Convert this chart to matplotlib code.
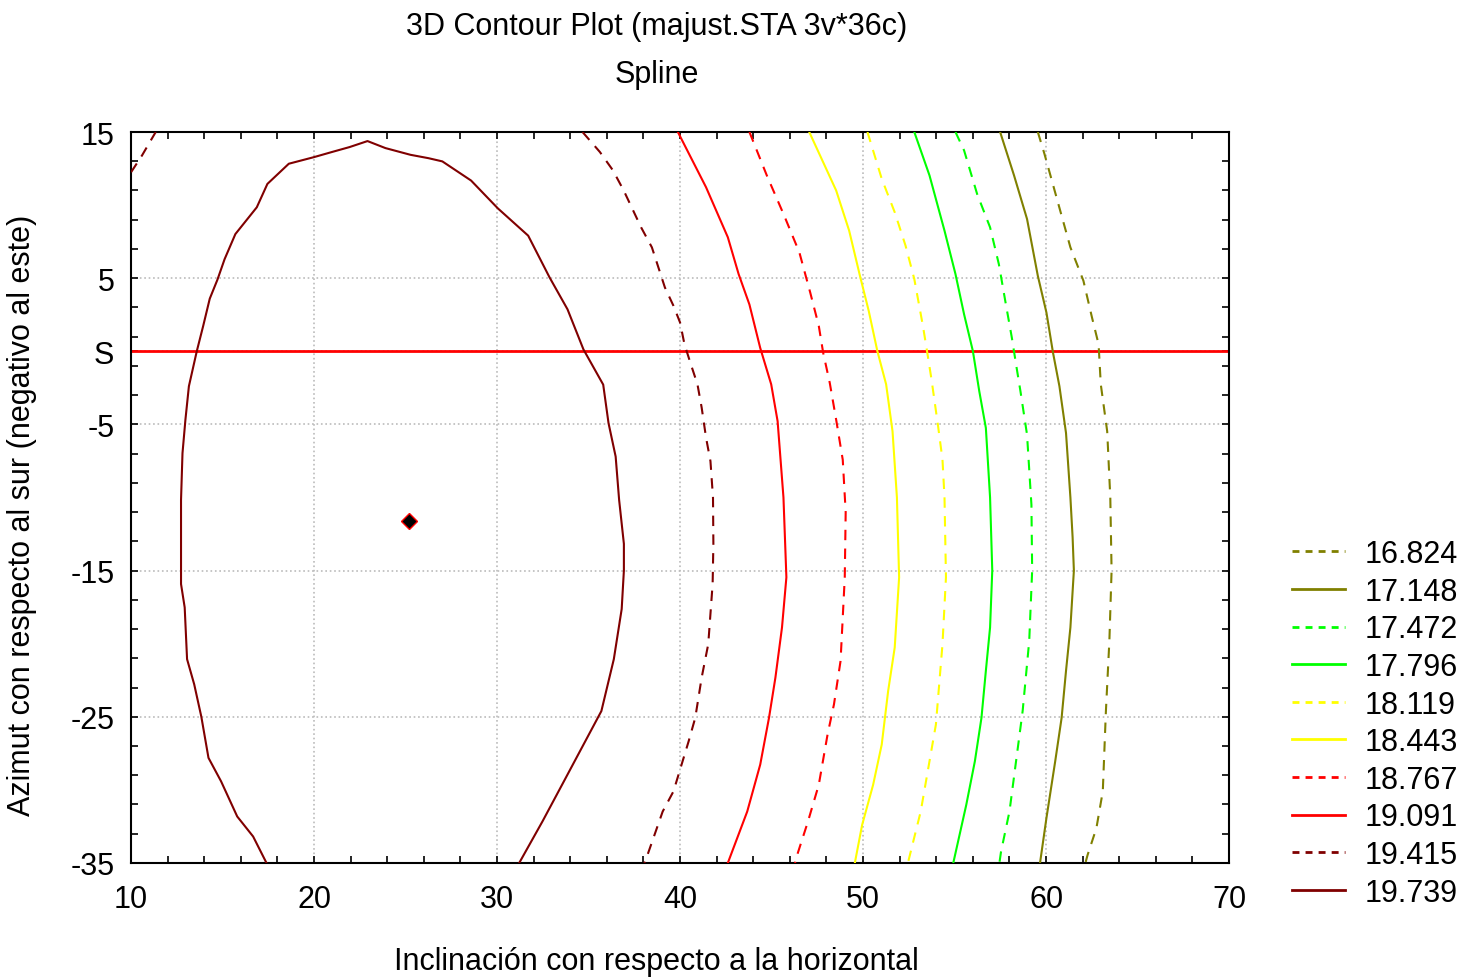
import matplotlib
matplotlib.use("Agg")
import matplotlib.pyplot as plt
from matplotlib.lines import Line2D

plt.rcParams['font.family'] = ['Liberation Sans', 'DejaVu Sans']

# contour levels, legend order (top to bottom)
levels = ['16.824', '17.148', '17.472', '17.796', '18.119',
          '18.443', '18.767', '19.091', '19.415', '19.739']
colors = ['#808000', '#808000', '#00ff00', '#00ff00', '#ffff00',
          '#ffff00', '#ff0000', '#ff0000', '#800000', '#800000']
dashed = [True, False, True, False, True, False, True, False, True, False]

# contour lines (x = inclinacion, y = azimut)
c16824_x = [59.55, 59.91, 60.62, 61.33, 62.04, 62.51, 62.87, 62.99, 63.34, 63.51, 63.58, 63.46, 63.27, 63.10, 62.75, 62.27, 62.15]
c16824_y = [15.0, 13.51, 10.31, 7.11, 4.83, 2.31, 0.48, -2.26, -5.47, -10.0, -15.0, -19.8, -24.61, -30.1, -32.62, -34.45, -35.0]

c17148_x = [57.49, 58.25, 58.96, 59.55, 60.02, 60.38, 60.73, 61.09, 61.33, 61.45, 61.52, 61.33, 61.09, 60.85, 60.50, 60.02, 59.67]
c17148_y = [15.0, 12.03, 9.05, 5.16, 2.65, -0.1, -2.39, -5.59, -10.0, -12.71, -15.0, -18.89, -21.86, -25.07, -28.04, -31.93, -35.0]

c17472_x = [55.05, 55.52, 56.23, 56.94, 57.42, 57.77, 58.13, 58.36, 58.60, 58.96, 59.20, 59.24, 59.08, 58.72, 58.36, 58.00, 57.54, 57.45]
c17472_y = [15.0, 13.74, 10.77, 8.48, 5.96, 3.45, 0.93, -0.89, -2.73, -5.7, -10.5, -15.0, -19.8, -24.61, -28.04, -31.48, -34.22, -35.0]

c17796_x = [52.80, 53.63, 54.45, 55.05, 55.52, 56.00, 56.35, 56.71, 56.94, 57.06, 56.94, 56.71, 56.47, 56.11, 55.64, 54.93]
c17796_y = [15.0, 12.03, 8.25, 5.28, 2.53, 0.02, -2.73, -5.24, -10.0, -15.0, -18.89, -21.86, -25.07, -28.04, -31.02, -35.0]

c18119_x = [50.24, 51.02, 51.73, 52.32, 52.80, 53.27, 53.51, 53.74, 54.10, 54.34, 54.45, 54.53, 54.34, 53.98, 53.63, 53.15, 52.56, 52.45]
c18119_y = [15.0, 11.8, 9.51, 7.23, 4.94, 1.74, -0.1, -1.93, -5.13, -7.42, -10.0, -15.46, -20.03, -25.53, -28.04, -31.48, -34.45, -35.0]

c18443_x = [47.06, 48.53, 49.24, 49.83, 50.31, 50.78, 51.26, 51.61, 51.85, 51.97, 51.73, 51.37, 51.02, 50.55, 49.95, 49.55]
c18443_y = [15.0, 11.0, 8.25, 5.16, 2.76, 0.02, -2.26, -5.47, -10.0, -15.46, -20.26, -23.24, -26.9, -29.65, -32.39, -35.0]

c18767_x = [43.79, 44.74, 45.69, 46.52, 47.11, 47.58, 47.82, 48.18, 48.53, 48.89, 49.05, 49.00, 48.77, 48.41, 48.06, 47.58, 46.99, 46.40, 46.28]
c18767_y = [15.0, 12.03, 9.28, 6.76, 4.03, 1.74, -0.1, -2.16, -4.68, -7.42, -11.0, -15.46, -21.18, -24.15, -26.21, -29.65, -32.16, -34.45, -35.0]

c19091_x = [39.88, 41.42, 42.61, 43.20, 43.79, 44.38, 44.98, 45.33, 45.65, 45.81, 45.57, 45.21, 44.86, 44.38, 43.67, 42.61]
c19091_y = [15.0, 11.22, 7.8, 5.28, 3.2, 0.23, -2.26, -4.78, -10.0, -15.46, -18.89, -22.32, -25.07, -28.27, -31.48, -35.0]

c19415_x = [34.67, 35.62, 36.33, 36.92, 37.87, 38.46, 39.17, 39.64, 40.00, 40.24, 40.59, 40.95, 41.18, 41.42, 41.66, 41.80, 41.82, 41.78, 41.54, 41.18, 40.83, 40.47, 39.64, 39.05, 38.22, 38.05]
c19415_y = [15.0, 13.63, 12.38, 11.0, 8.48, 7.11, 4.37, 3.11, 1.97, 0.48, -0.89, -2.26, -3.85, -5.91, -7.51, -10.02, -13.17, -15.9, -20.03, -22.32, -25.07, -26.67, -30.1, -31.48, -34.45, -35.0]
c19415b_x = [10.0, 10.6, 11.3, 11.35]
c19415b_y = [12.25, 13.4, 14.9, 15.0]

c19739_x = [17.40, 16.67, 15.80, 14.92, 14.23, 13.84, 13.45, 13.06, 12.93, 12.73, 12.73, 12.81, 12.97, 13.16,
            13.59, 13.94, 14.30, 14.72, 15.11, 15.70, 16.87, 17.45, 18.62, 19.99, 20.97, 21.94, 22.92,
            23.90, 25.27, 26.25, 27.01, 28.58, 30.04, 31.70, 32.87, 33.85, 34.72, 35.80, 36.09, 36.48,
            36.67, 36.93, 36.93, 36.81, 36.38, 35.70, 33.65, 32.48, 31.21]
c19739_y = [-35.0, -33.19, -31.82, -29.42, -27.81, -25.0, -22.78, -21.06, -17.52, -15.92, -10.17, -6.97, -4.68, -2.39,
            0.0, 1.73, 3.6, 4.9, 6.3, 8.02, 9.85, 11.45, 12.83, 13.28, 13.63, 13.97, 14.38,
            13.9, 13.44, 13.21, 12.99, 11.68, 9.78, 7.91, 5.05, 2.87, 0.13, -2.28, -4.91, -7.2,
            -10.17, -13.17, -15.0, -17.63, -21.06, -24.61, -29.42, -32.16, -35.0]

lines = {
    '16.824': [(c16824_x, c16824_y)],
    '17.148': [(c17148_x, c17148_y)],
    '17.472': [(c17472_x, c17472_y)],
    '17.796': [(c17796_x, c17796_y)],
    '18.119': [(c18119_x, c18119_y)],
    '18.443': [(c18443_x, c18443_y)],
    '18.767': [(c18767_x, c18767_y)],
    '19.091': [(c19091_x, c19091_y)],
    '19.415': [(c19415_x, c19415_y), (c19415b_x, c19415b_y)],
    '19.739': [(c19739_x, c19739_y)],
}

opt_x = [25.2]
opt_y = [-11.6]
south_y = 0

x_ticks = [10, 20, 30, 40, 50, 60, 70]
y_ticks = [15, 5, 0, -5, -15, -25, -35]
y_tick_labels = ['15', '5', 'S', '-5', '-15', '-25', '-35']

fs = 22

fig = plt.figure(figsize=(14.76, 9.78), dpi=100)
ax = fig.add_axes([0.0888, 0.1166, 0.7439, 0.7474])

dash = (0, (5, 4))
handles = []
for lev, col, d in zip(levels, colors, dashed):
    ls = dash if d else '-'
    for xs, ys in lines[lev]:
        ax.plot(xs, ys, color=col, lw=1.5, ls=ls, zorder=3)
    handles.append(Line2D([], [], color=col, lw=2, ls=(0, (2.5, 2.2)) if d else '-'))

ax.axhline(south_y, color='#ff0000', lw=2, zorder=2)
ax.plot(opt_x, opt_y, marker='D', ms=8, mfc='black', mec='#ff0000', mew=1, ls='none', zorder=5)

ax.set_xlim(10, 70)
ax.set_ylim(-35, 15)
ax.set_xticks(x_ticks)
ax.set_yticks(y_ticks)
ax.set_yticklabels(y_tick_labels)
ax.set_xticks(range(12, 70, 2), minor=True)
ax.set_yticks(range(-33, 15, 2), minor=True)
ax.tick_params(which='both', direction='in', length=5, width=1.2, top=True, right=True,
               labelsize=fs)
ax.tick_params(axis='x', pad=15)
ax.tick_params(axis='y', pad=12)
ax.grid(True, which='major', color='#bbbbbb', ls=':', lw=1.2)
for s in ax.spines.values():
    s.set_linewidth(1.5)

fig.text(0.445, 0.972, '3D Contour Plot (majust.STA 3v*36c)', ha='center', va='center', fontsize=fs)
fig.text(0.445, 0.923, 'Spline', ha='center', va='center', fontsize=fs)
fig.text(0.445, 0.016, 'Inclinación con respecto a la horizontal', ha='center', va='center', fontsize=fs)
fig.text(0.015, 0.473, 'Azimut con respecto al sur (negativo al este)', rotation=90,
         ha='center', va='center', fontsize=fs)

fig.legend(handles, levels, loc='upper left', bbox_to_anchor=(0.857, 0.476), frameon=False,
           fontsize=fs, handlelength=1.73, handletextpad=0.62, labelspacing=0.25)

fig.savefig('out.png', dpi=100)
